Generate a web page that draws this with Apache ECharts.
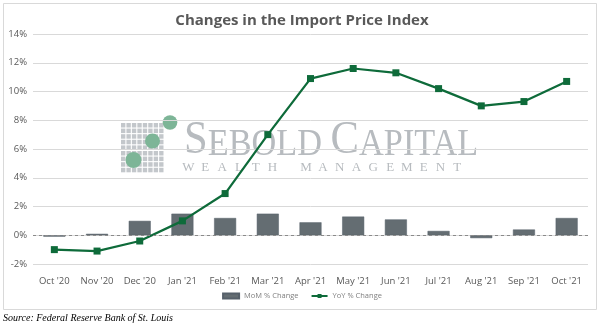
<!DOCTYPE html>
<html><head><meta charset="utf-8">
<script src="https://cdn.jsdelivr.net/npm/echarts@6/dist/echarts.min.js"></script>
<style>html,body{margin:0;padding:0;background:#fff;}#c{width:604px;height:329px;}</style>
</head><body><div id="c"></div>
<script>
const categories = ["Oct '20","Nov '20","Dec '20","Jan '21","Feb '21","Mar '21","Apr '21","May '21","Jun '21","Jul '21","Aug '21","Sep '21","Oct '21"];
const momChange = [-0.1, 0.1, 1.0, 1.5, 1.2, 1.5, 0.9, 1.3, 1.1, 0.3, -0.2, 0.4, 1.2];
const yoyChange = [-1.0, -1.1, -0.4, 1.0, 2.9, 7.0, 10.9, 11.6, 11.3, 10.2, 9.0, 9.3, 10.7];
const yTicks = {min: -2, max: 14, interval: 2};

const chart = echarts.init(document.getElementById('c'), null, {renderer: 'canvas'});

// watermark logo graphics
const logo = [];
const gx0 = 121, gy0 = 123, cols = 8, rows = 9, pw = 5.45, ph = 5.6;
for (let r = 0; r < rows; r++) {
  for (let c = 0; c < cols; c++) {
    logo.push({type: 'rect', shape: {x: gx0 + c * pw, y: gy0 + r * ph, width: pw - 1.1, height: ph - 1.1},
      style: {fill: '#c3c7cb'}, silent: true, z: 0});
  }
}
[[133.5, 160, 8], [152.5, 141, 7.5], [170, 122.5, 7.3]].forEach(p => {
  logo.push({type: 'circle', shape: {cx: p[0], cy: p[1], r: p[2]}, style: {fill: '#7db597'}, silent: true, z: 0});
});
logo.push({type: 'text', x: 184, y: 164, scaleX: 0.927, originX: 0, originY: 0,
  style: {text: '{b|S}{s|EBOLD }{b|C}{s|APITAL}', fill: '#b7bbbf', textVerticalAlign: 'bottom',
    rich: {b: {font: '46px "Liberation Serif"', fill: '#b7bbbf', verticalAlign: 'bottom', lineHeight: 46},
           s: {font: '37px "Liberation Serif"', fill: '#b7bbbf', verticalAlign: 'bottom', lineHeight: 46}}},
  silent: true, z: 0});
const wm = 'WEALTH MANAGEMENT';
for (let i = 0; i < wm.length; i++) {
  if (wm[i] === ' ') continue;
  logo.push({type: 'text', x: 188.5 + i * 16.8, y: 167.5, style: {text: wm[i], font: '13px "Liberation Serif"', fill: '#b7bbbf', textAlign: 'center', textVerticalAlign: 'middle'}, silent: true, z: 0});
}

chart.setOption({
  backgroundColor: '#fff',
  animation: false,
  title: {text: 'Changes in the Import Price Index', left: 'center', top: 8,
    textStyle: {fontFamily: 'Open Sans', fontSize: 15, fontWeight: 'bold', color: '#595959'}},
  grid: {left: 33, right: 16, top: 34, bottom: 65, containLabel: false},
  legend: {bottom: 24, left: 'center', itemWidth: 16, itemHeight: 5, itemGap: 12,
    textStyle: {fontFamily: 'Open Sans', fontSize: 7.5, color: '#7f7f7f'},
    data: [{name: 'MoM % Change', icon: 'rect'}, {name: 'YoY % Change'}]},
  graphic: [
    {type: 'rect', shape: {x: 3.5, y: 3.5, width: 593, height: 306}, style: {fill: 'none', stroke: '#d9d9d9', lineWidth: 1}, silent: true, z: 0},
    {type: 'text', left: 3, top: 313, style: {text: 'Source: Federal Reserve Bank of St. Louis', font: 'italic 10px "Liberation Serif"', fill: '#000'}, silent: true},
    ...logo
  ],
  xAxis: {type: 'category', data: categories, boundaryGap: true,
    axisLine: {show: false}, axisTick: {show: false},
    axisLabel: {interval: 0, fontFamily: 'Open Sans', fontSize: 9.5, color: '#595959', margin: 12}},
  yAxis: {type: 'value', min: yTicks.min, max: yTicks.max, interval: yTicks.interval,
    axisLabel: {formatter: v => v + '%', fontFamily: 'Open Sans', fontSize: 9.5, color: '#595959', margin: 6},
    axisLine: {show: false}, axisTick: {show: false},
    splitLine: {lineStyle: {color: '#d9d9d9', width: 1}}},
  series: [
    {name: 'MoM % Change', type: 'bar', data: momChange, barWidth: 22, z: 2,
      itemStyle: {color: '#646d72', borderColor: '#56606a', borderWidth: 0.5},
      markLine: {silent: true, symbol: 'none', label: {show: false},
        lineStyle: {color: '#8a8a8a', type: [3, 3], width: 1}, data: [{yAxis: 0}]}},
    {name: 'YoY % Change', type: 'line', data: yoyChange, z: 3,
      symbol: 'rect', symbolSize: 7, showAllSymbol: true,
      lineStyle: {color: '#0e6b3a', width: 2.25},
      itemStyle: {color: '#0e6b3a'}}
  ]
});
</script></body></html>
